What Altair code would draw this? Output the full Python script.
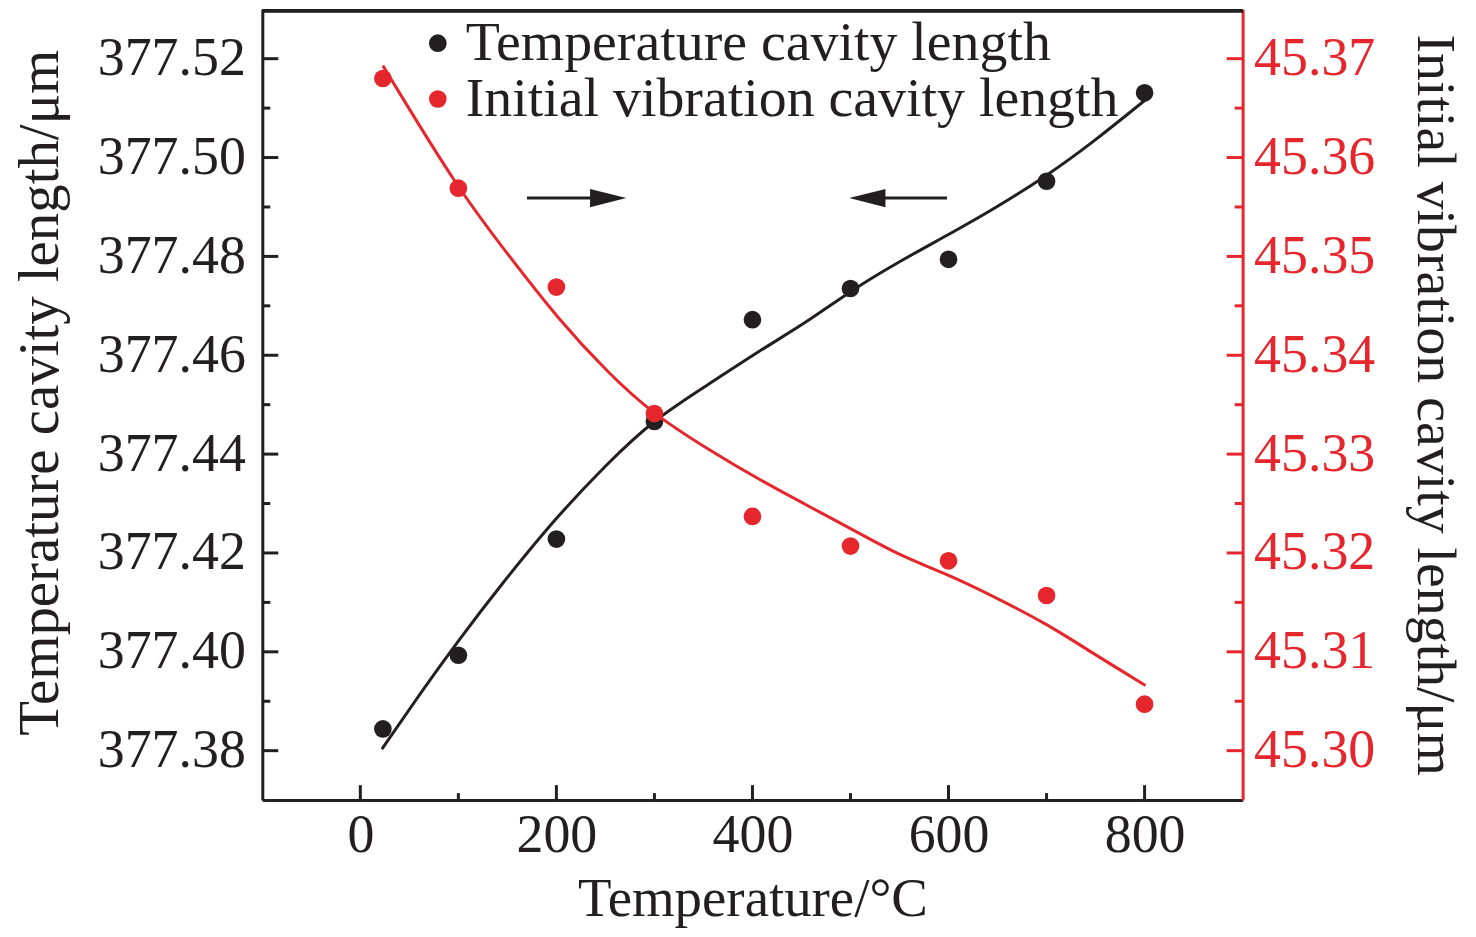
import altair as alt
import pandas as pd

# ---------------- data ----------------
temps = [23, 100, 200, 300, 400, 500, 600, 700, 800]
temp_cavity = [377.3844, 377.3993, 377.4228, 377.4466, 377.4672, 377.4735, 377.4794, 377.4952, 377.5131]
vib_cavity = [45.3680, 45.3569, 45.3469, 45.3341, 45.3237, 45.3207, 45.3192, 45.3157, 45.3047]

temp_fit_x = [22, 64, 99, 142, 201, 251, 298, 356, 407, 458, 499, 549, 600, 648, 701, 748, 801]
temp_fit_y = [377.3803, 377.3924, 377.4020, 377.4132, 377.4275, 377.4379, 377.4468, 377.4542,
              377.4609, 377.4670, 377.4729, 377.4789, 377.4844, 377.4898, 377.4964, 377.5032, 377.5117]

vib_fit_x = [23, 99, 149, 203, 254, 298, 356, 407, 458, 509, 549, 600, 648, 701, 748, 801]
vib_fit_y = [45.3693, 45.3569, 45.3504, 45.3435, 45.3381, 45.3341, 45.3304, 45.3274, 45.3247,
             45.3220, 45.3198, 45.3178, 45.3155, 45.3128, 45.3098, 45.3066]

series_names = ["Temperature cavity length", "Initial vibration cavity length"]

left_major = [377.38, 377.40, 377.42, 377.44, 377.46, 377.48, 377.50, 377.52]
left_minor = [377.39, 377.41, 377.43, 377.45, 377.47, 377.49, 377.51]
right_major = [45.30, 45.31, 45.32, 45.33, 45.34, 45.35, 45.36, 45.37]
right_minor = [45.305, 45.315, 45.325, 45.335, 45.345, 45.355, 45.365]
x_major = [0, 200, 400, 600, 800]
x_minor = [100, 300, 500, 700]

arrow_level = 377.4918
arrow_shaft_from = [170, 598.5]
arrow_shaft_to = [253, 517]
arrow_head_x = [252.8, 517.2]
arrow_head_angle = [0, 180]

# ---------------- styling ----------------
W, H = 983, 793
FONT = "Liberation Serif"
FS = 54
BLACK = "#231F20"
RED = "#E6262D"

x_scale = alt.Scale(domain=[-100, 900], nice=False, zero=False)
yl_scale = alt.Scale(domain=[377.37, 377.53], nice=False, zero=False)
yr_scale = alt.Scale(domain=[45.295, 45.375], nice=False, zero=False)

x_axis = alt.Axis(orient="bottom", values=x_major, format="d", ticks=False, tickSize=0,
                  labelPadding=9, labelFont=FONT, labelFontSize=FS, labelColor=BLACK,
                  labelOverlap=False, labelFlush=False, grid=False,
                  domainColor=BLACK, domainWidth=3,
                  title="Temperature/°C", titleFont=FONT, titleFontSize=55,
                  titleFontWeight="normal", titleColor=BLACK, titlePadding=10)

yl_axis = alt.Axis(orient="left", values=left_major, format=".2f", ticks=False, tickSize=0,
                   labelPadding=17, labelFont=FONT, labelFontSize=FS, labelColor=BLACK,
                   labelOverlap=False, labelFlush=False, grid=False,
                   domainColor=BLACK, domainWidth=3,
                   title="Temperature cavity length/μm", titleFont=FONT, titleFontSize=57,
                   titleFontWeight="normal", titleColor=BLACK, titlePadding=28, titleY=384)

yr_axis = alt.Axis(orient="right", values=right_major, format=".2f", ticks=False, tickSize=0,
                   labelPadding=11, labelFont=FONT, labelFontSize=FS, labelColor=RED,
                   labelOverlap=False, labelFlush=False, grid=False,
                   domainColor=RED, domainWidth=3,
                   title="Initial vibration cavity length/μm", titleFont=FONT, titleFontSize=56,
                   titleFontWeight="normal", titleColor=BLACK, titlePadding=31)

color_scale = alt.Scale(domain=series_names, range=[BLACK, RED])
legend = alt.Legend(orient="none", legendX=148, legendY=6, title=None, padding=0,
                    labelFont=FONT, labelFontSize=56, labelColor=BLACK, labelLimit=2000,
                    labelOffset=0, rowPadding=0, symbolType="circle", symbolSize=314,
                    symbolStrokeWidth=0)


def X(field):
    return alt.X(field, type="quantitative", scale=x_scale, axis=x_axis)


def YL(field):
    return alt.Y(field, type="quantitative", scale=yl_scale, axis=yl_axis)


def YR(field):
    return alt.Y(field, type="quantitative", scale=yr_scale, axis=yr_axis)


pts_df = pd.DataFrame({"T": temps, "tc": temp_cavity, "vc": vib_cavity,
                       "s1": series_names[0], "s2": series_names[1]})
tfit_df = pd.DataFrame({"T": temp_fit_x, "v": temp_fit_y})
vfit_df = pd.DataFrame({"T": vib_fit_x, "v": vib_fit_y})
lmaj_df = pd.DataFrame({"v": left_major})
lmin_df = pd.DataFrame({"v": left_minor})
rmaj_df = pd.DataFrame({"v": right_major})
rmin_df = pd.DataFrame({"v": right_minor})
xmaj_df = pd.DataFrame({"T": x_major})
xmin_df = pd.DataFrame({"T": x_minor})
shaft_df = pd.DataFrame({"a": arrow_shaft_from, "b": arrow_shaft_to, "v": [arrow_level] * 2})
head_df = pd.DataFrame({"T": arrow_head_x, "ang": arrow_head_angle, "v": [arrow_level] * 2})

# ---------------- left (black) group ----------------
black_line = alt.Chart(tfit_df).mark_line(color=BLACK, strokeWidth=3, interpolate="basis").encode(
    x=X("T"), y=YL("v"))
black_pts = alt.Chart(pts_df).mark_point(filled=True, size=314, opacity=1, strokeWidth=0).encode(
    x=X("T"), y=YL("tc"),
    color=alt.Color("s1:N", scale=color_scale, legend=legend))
lmaj = alt.Chart(lmaj_df).mark_rule(color=BLACK, strokeWidth=3).encode(
    y=YL("v"), x=alt.value(0), x2=alt.value(16))
lmin = alt.Chart(lmin_df).mark_rule(color=BLACK, strokeWidth=3).encode(
    y=YL("v"), x=alt.value(0), x2=alt.value(8))
xmaj = alt.Chart(xmaj_df).mark_rule(color=BLACK, strokeWidth=3).encode(
    x=X("T"), y=alt.value(H), y2=alt.value(H - 15))
xmin = alt.Chart(xmin_df).mark_rule(color=BLACK, strokeWidth=3).encode(
    x=X("T"), y=alt.value(H), y2=alt.value(H - 7))
top_border = alt.Chart(xmaj_df).mark_rule(color=BLACK, strokeWidth=3).encode(
    x=alt.value(0), x2=alt.value(W), y=alt.value(1.5))
shafts = alt.Chart(shaft_df).mark_rule(color=BLACK, strokeWidth=3).encode(
    x=X("a"), x2="b", y=YL("v"))
heads = alt.Chart(head_df).mark_point(filled=True, opacity=1, color=BLACK, strokeWidth=0, size=1318,
                                      shape="M -1 -0.5 L 1 0 L -1 0.5 Z").encode(
    x=X("T"), y=YL("v"), angle=alt.Angle("ang:Q", scale=None))

left = alt.layer(top_border, lmaj, lmin, xmaj, xmin, shafts, heads, black_line, black_pts)

# ---------------- right (red) group ----------------
red_line = alt.Chart(vfit_df).mark_line(color=RED, strokeWidth=3, interpolate="basis").encode(
    x=X("T"), y=YR("v"))
red_pts = alt.Chart(pts_df).mark_point(filled=True, size=314, opacity=1, strokeWidth=0).encode(
    x=X("T"), y=YR("vc"),
    color=alt.Color("s2:N", scale=color_scale, legend=legend))
rmaj = alt.Chart(rmaj_df).mark_rule(color=RED, strokeWidth=3).encode(
    y=YR("v"), x=alt.value(W - 16), x2=alt.value(W))
rmin = alt.Chart(rmin_df).mark_rule(color=RED, strokeWidth=3).encode(
    y=YR("v"), x=alt.value(W - 8), x2=alt.value(W))

right = alt.layer(rmaj, rmin, red_line, red_pts)

chart = alt.layer(left, right).resolve_scale(y="independent").properties(
    width=W, height=H,
    padding={"left": 3, "top": 0, "right": 5, "bottom": 5},
    background="white",
).configure_view(stroke=None)

chart.save("out.html", embed_options={"renderer": "svg", "actions": False})
